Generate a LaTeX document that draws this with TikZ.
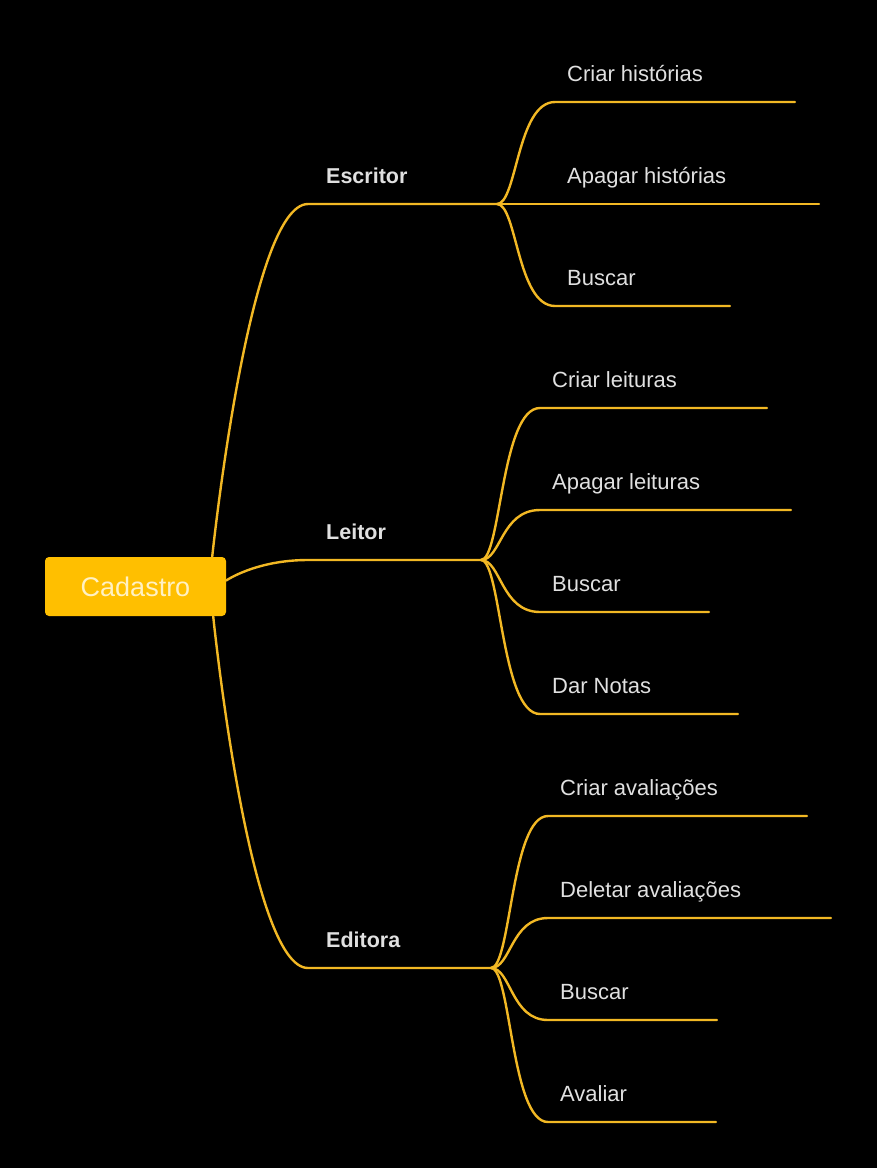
\documentclass[tikz,border=0pt]{standalone}
\usepackage{fontspec}
\setmainfont{Liberation Sans}
\definecolor{mapline}{RGB}{242,184,36}
\definecolor{rootfill}{RGB}{255,191,0}
\definecolor{roottext}{RGB}{255,241,196}
\definecolor{leaftext}{RGB}{224,224,224}
\begin{document}
\begin{tikzpicture}[x=1pt,y=-1pt,
  branch/.style={draw=mapline,line width=2.4pt,line cap=round},
  topic/.style={text=leaftext,font=\fontsize{21.5}{26}\selectfont\bfseries,inner sep=0pt,anchor=base west},
  leaf/.style={text=leaftext,font=\fontsize{22}{26}\selectfont,inner sep=0pt,anchor=base west}]
  \fill[black] (0,0) rectangle (877,1168);
  \node[fill=rootfill,rounded corners=4pt,minimum width=181pt,minimum height=59pt,
    text=roottext,font=\fontsize{27}{32}\selectfont] (cadastro) at (135.5,586.5) {Cadastro};
  \coordinate (escritor-s) at ([xshift=-14pt]cadastro.north east);
  \coordinate (leitor-s) at ([yshift=6pt]cadastro.east);
  \coordinate (editora-s) at ([xshift=-13pt]cadastro.south east);
  \foreach \name/\txt/\y/\c/\fork in {escritor/Escritor/204/249/497,leitor/Leitor/560/256/481,editora/Editora/968/249/491} {
    \coordinate (\name-l) at (308,\y);
    \coordinate (\name-r) at (\fork,\y);
    \node[topic] (\name) at (326,\y-21) {\txt};
    \draw[branch] (\name-s) .. controls (\name-s) and (\c,\y) .. (\name-l) -- (\name-r);
  }
  \foreach \id/\txt/\y/\len in {1/Criar histórias/102/795,2/Apagar histórias/204/819,3/Buscar/306/730} {
    \coordinate (esc\id-l) at (555,\y);
    \coordinate (esc\id-r) at (\len,\y);
    \node[leaf] (esc\id) at (567,\y-21) {\txt};
    \draw[branch] (escritor-r) .. controls (517,204) and (517,\y) .. (esc\id-l) -- (esc\id-r);
  }
  \foreach \id/\txt/\y/\len in {1/Criar leituras/408/767,2/Apagar leituras/510/791,3/Buscar/612/709,4/Dar Notas/714/738} {
    \coordinate (lei\id-l) at (540,\y);
    \coordinate (lei\id-r) at (\len,\y);
    \node[leaf] (lei\id) at (552,\y-21) {\txt};
    \draw[branch] (leitor-r) .. controls (501,560) and (501,\y) .. (lei\id-l) -- (lei\id-r);
  }
  \foreach \id/\txt/\y/\len in {1/Criar avaliações/816/807,2/Deletar avaliações/918/831,3/Buscar/1020/717,4/Avaliar/1122/716} {
    \coordinate (edi\id-l) at (548,\y);
    \coordinate (edi\id-r) at (\len,\y);
    \node[leaf] (edi\id) at (560,\y-21) {\txt};
    \draw[branch] (editora-r) .. controls (511,968) and (511,\y) .. (edi\id-l) -- (edi\id-r);
  }
\end{tikzpicture}
\end{document}
